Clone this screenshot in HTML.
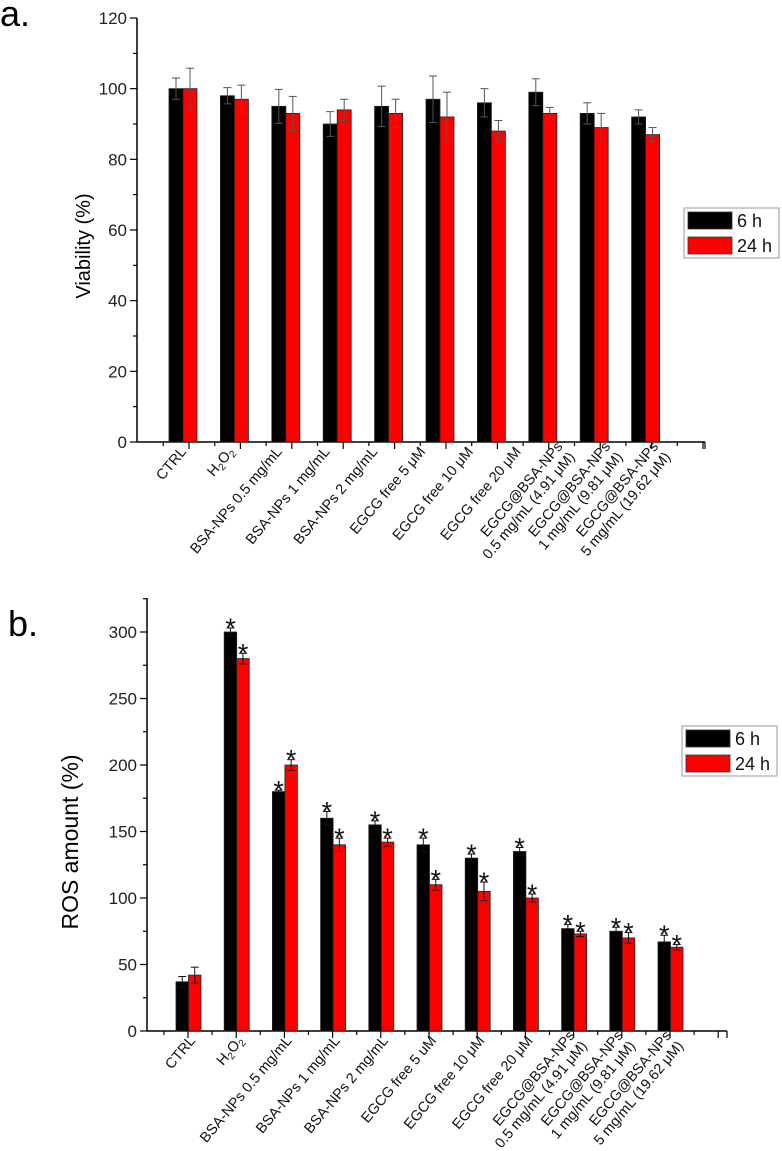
<!DOCTYPE html>
<html><head><meta charset="utf-8"><style>
body{margin:0;background:#fff}
svg{display:block;font-family:"Liberation Sans",Arial,sans-serif}
</style></head><body>
<svg id="fig" width="782" height="1151" viewBox="0 0 782 1151" xmlns="http://www.w3.org/2000/svg">
<text x="0" y="26" font-size="36">a.</text>
<text x="8" y="636" font-size="36">b.</text>
<text transform="translate(90,246) rotate(-90)" text-anchor="middle" font-size="20">Viability (%)</text>
<text transform="translate(78,842) rotate(-90)" text-anchor="middle" font-size="23">ROS amount (%)</text>
<g id="ga"></g><g id="gb"></g>
</svg>
<script>
const labelsA = ["CTRL","H2O2","BSA-NPs 0.5 mg/mL","BSA-NPs 1 mg/mL","BSA-NPs 2 mg/mL","EGCG free 5 μM","EGCG free 10 μM","EGCG free 20 μM","EGCG@BSA-NPs|0.5 mg/mL (4.91 μM)","EGCG@BSA-NPs|1 mg/mL (9.81 μM)","EGCG@BSA-NPs|5 mg/mL (19.62 μM)"];
const labelsB = ["CTRL","H2O2","BSA-NPs 0.5 mg/mL","BSA-NPs  1 mg/mL","BSA-NPs 2 mg/mL","EGCG free 5 uM","EGCG free 10 μM","EGCG free 20 μM","EGCG@BSA-NPs|0.5 mg/mL (4.91 μM)","EGCG@BSA-NPs|1 mg/mL (9.81 μM)","EGCG@BSA-NPs|5 mg/mL (19.62 μM)"];
const viab6 = [100,98,95,90,95,97,96,99,93,92];
const viab6Err = [3,2.3,4.8,3.5,5.7,6.6,4,3.8,3,2];
const viab24 = [100,97,93,94,93,92,88,93,89,87];
const viab24Err = [5.8,4,4.8,3,4,7,3,1.7,4,2];
const ticksA = [0,20,40,60,80,100,120];
const ros6 = [37,300,180,160,155,140,130,135,77,75,67];
const ros6Err = [4,3,1,5,3,5,3,3,3,3,5];
const ros24 = [42,280,200,140,142,110,105,100,73,70,63];
const ros24Err = [6,4,4,5,3,4,7,3,2,4,2];
const ticksB = [0,50,100,150,200,250,300];
const starred = [false,true,true,true,true,true,true,true,true,true,true];

const NS="http://www.w3.org/2000/svg";
function mk(p,tag,attrs){const e=document.createElementNS(NS,tag);for(const k in attrs)e.setAttribute(k,attrs[k]);p.appendChild(e);return e;}

function panel(g,cfg){
  const y=v=>cfg.y0-(v-0)*(cfg.y0-cfg.yTop)/cfg.vmax;
  const ax=mk(g,'line',{x1:cfg.x0,y1:cfg.y0,x2:cfg.x0,y2:cfg.axisTop,stroke:'#000','stroke-width':1.5});
  
  
  const xa=mk(g,'line',{x1:cfg.x0,y1:cfg.y0,x2:cfg.xEnd,y2:cfg.y0,stroke:'#000','stroke-width':1.5});
  
  
  const tks=cfg.ticks;
  const step=tks[1]-tks[0];
  for(let v=0;v<=cfg.axisMax+0.01;v+=step/2){
    const major=Math.abs(v/step-Math.round(v/step))<0.01;
    mk(g,'line',{x1:cfg.x0-(major?7:4),y1:y(v),x2:cfg.x0,y2:y(v),stroke:'#000','stroke-width':1.2});
  }
  tks.forEach(v=>{
    const t=mk(g,'text',{x:cfg.x0-10,y:y(v)+6,'text-anchor':'end','font-size':17,fill:'#222'});
    t.textContent=v;
    
    
  });
  for(let k=0;;k++){
    const xm=cfg.tick0+k*cfg.tickStep; const xn=xm-cfg.tickStep/2;
    if(xn<cfg.xEnd) mk(g,'line',{x1:xn,y1:cfg.y0,x2:xn,y2:cfg.y0+4,stroke:'#000','stroke-width':1.2});
    if(xm<=cfg.xEnd+1) mk(g,'line',{x1:xm,y1:cfg.y0,x2:xm,y2:cfg.y0+7,stroke:'#000','stroke-width':1.2});
    else break;
  }
  mk(g,'line',{x1:cfg.xEnd,y1:cfg.y0,x2:cfg.xEnd,y2:cfg.y0+7,stroke:'#000','stroke-width':1.2});
  const series=[[cfg.s6,cfg.e6,'#000','bar-6h'],[cfg.s24,cfg.e24,'#ff0000','bar-24h']];
  cfg.s6.forEach((_,i)=>{
    series.forEach((s,j)=>{
      const v=s[0][i],e=s[1][i];
      const xl=cfg.bar0+i*cfg.group+j*cfg.bw;
      const r=mk(g,'rect',{x:xl,y:y(v),width:cfg.bw,height:cfg.y0-y(v),fill:s[2],stroke:'#222','stroke-width':0.8});
      
      
      const cx=xl+cfg.bw/2, ec=cfg.errCol;
      mk(g,'line',{x1:cx,y1:y(v+e),x2:cx,y2:y(v-e),stroke:ec,'stroke-width':1});
      mk(g,'line',{x1:cx-4,y1:y(v+e),x2:cx+4,y2:y(v+e),stroke:ec,'stroke-width':1});
      mk(g,'line',{x1:cx-4,y1:y(v-e),x2:cx+4,y2:y(v-e),stroke:ec,'stroke-width':1});
      if(cfg.stars && cfg.stars[i]){
        const st=mk(g,'text',{x:cx,y:y(v+e)+9,'text-anchor':'middle','font-size':27,fill:'#111'});
        st.textContent='*';
        
        
      }
    });
  });
  cfg.labels.forEach((lab,i)=>{
    const lx=cfg.lab0+i*cfg.labStep, ly=cfg.y0+cfg.labDy;
    const t=mk(g,'text',{transform:`translate(${lx},${ly}) rotate(-50)`,'text-anchor':'end','font-size':14.5,fill:'#111'});
    
    
    const parts=lab.split('|');
    if(parts.length===2){
      const a=mk(t,'tspan',{x:0,dy:-8});a.textContent=parts[0];
      const b=mk(t,'tspan',{x:0,dy:16});b.textContent=parts[1];
    } else if(lab==='H2O2'){
      const a=mk(t,'tspan',{});a.textContent='H';
      const b=mk(t,'tspan',{'font-size':10,dy:3});b.textContent='2';
      const c=mk(t,'tspan',{dy:-3});c.textContent='O';
      const d=mk(t,'tspan',{'font-size':10,dy:3});d.textContent='2';
    } else t.textContent=lab;
  });
  const L=cfg.leg;
  const lg=mk(g,'g',{});
  
  
  mk(lg,'rect',{x:L.x,y:L.y,width:95,height:50,fill:'#fff',stroke:'#999','stroke-width':1});
  [['#000','6 h',3],['#ff0000','24 h',28]].forEach(([c,t,dy])=>{
    mk(lg,'rect',{x:L.x+4,y:L.y+dy+1,width:44,height:17,fill:c,stroke:'#333','stroke-width':0.8});
    const tx=mk(lg,'text',{x:L.x+53,y:L.y+dy+16,'font-size':18,fill:'#111'});
    tx.textContent=t;
    
    
  });
}
panel(document.getElementById('ga'),{x0:137,y0:442,yTop:18,axisTop:18,vmax:120,axisMax:120,ticks:ticksA,xEnd:705,
  tick0:189,tickStep:51.4,bar0:169,group:51.4,bw:14,s6:viab6,e6:viab6Err,s24:viab24,e24:viab24Err,errCol:'#555',
  labels:labelsA,lab0:187,labStep:47.8,labDy:10,leg:{x:684,y:208}});
panel(document.getElementById('gb'),{x0:147,y0:1031,yTop:632,axisTop:598,vmax:300,axisMax:325,ticks:ticksB,xEnd:727,
  tick0:188,tickStep:48.2,bar0:176,group:48.2,bw:12.5,s6:ros6,e6:ros6Err,s24:ros24,e24:ros24Err,errCol:'#111',stars:starred,
  labels:labelsB,lab0:196,labStep:48.2,labDy:10,leg:{x:682,y:726}});
</script>
</body></html>
